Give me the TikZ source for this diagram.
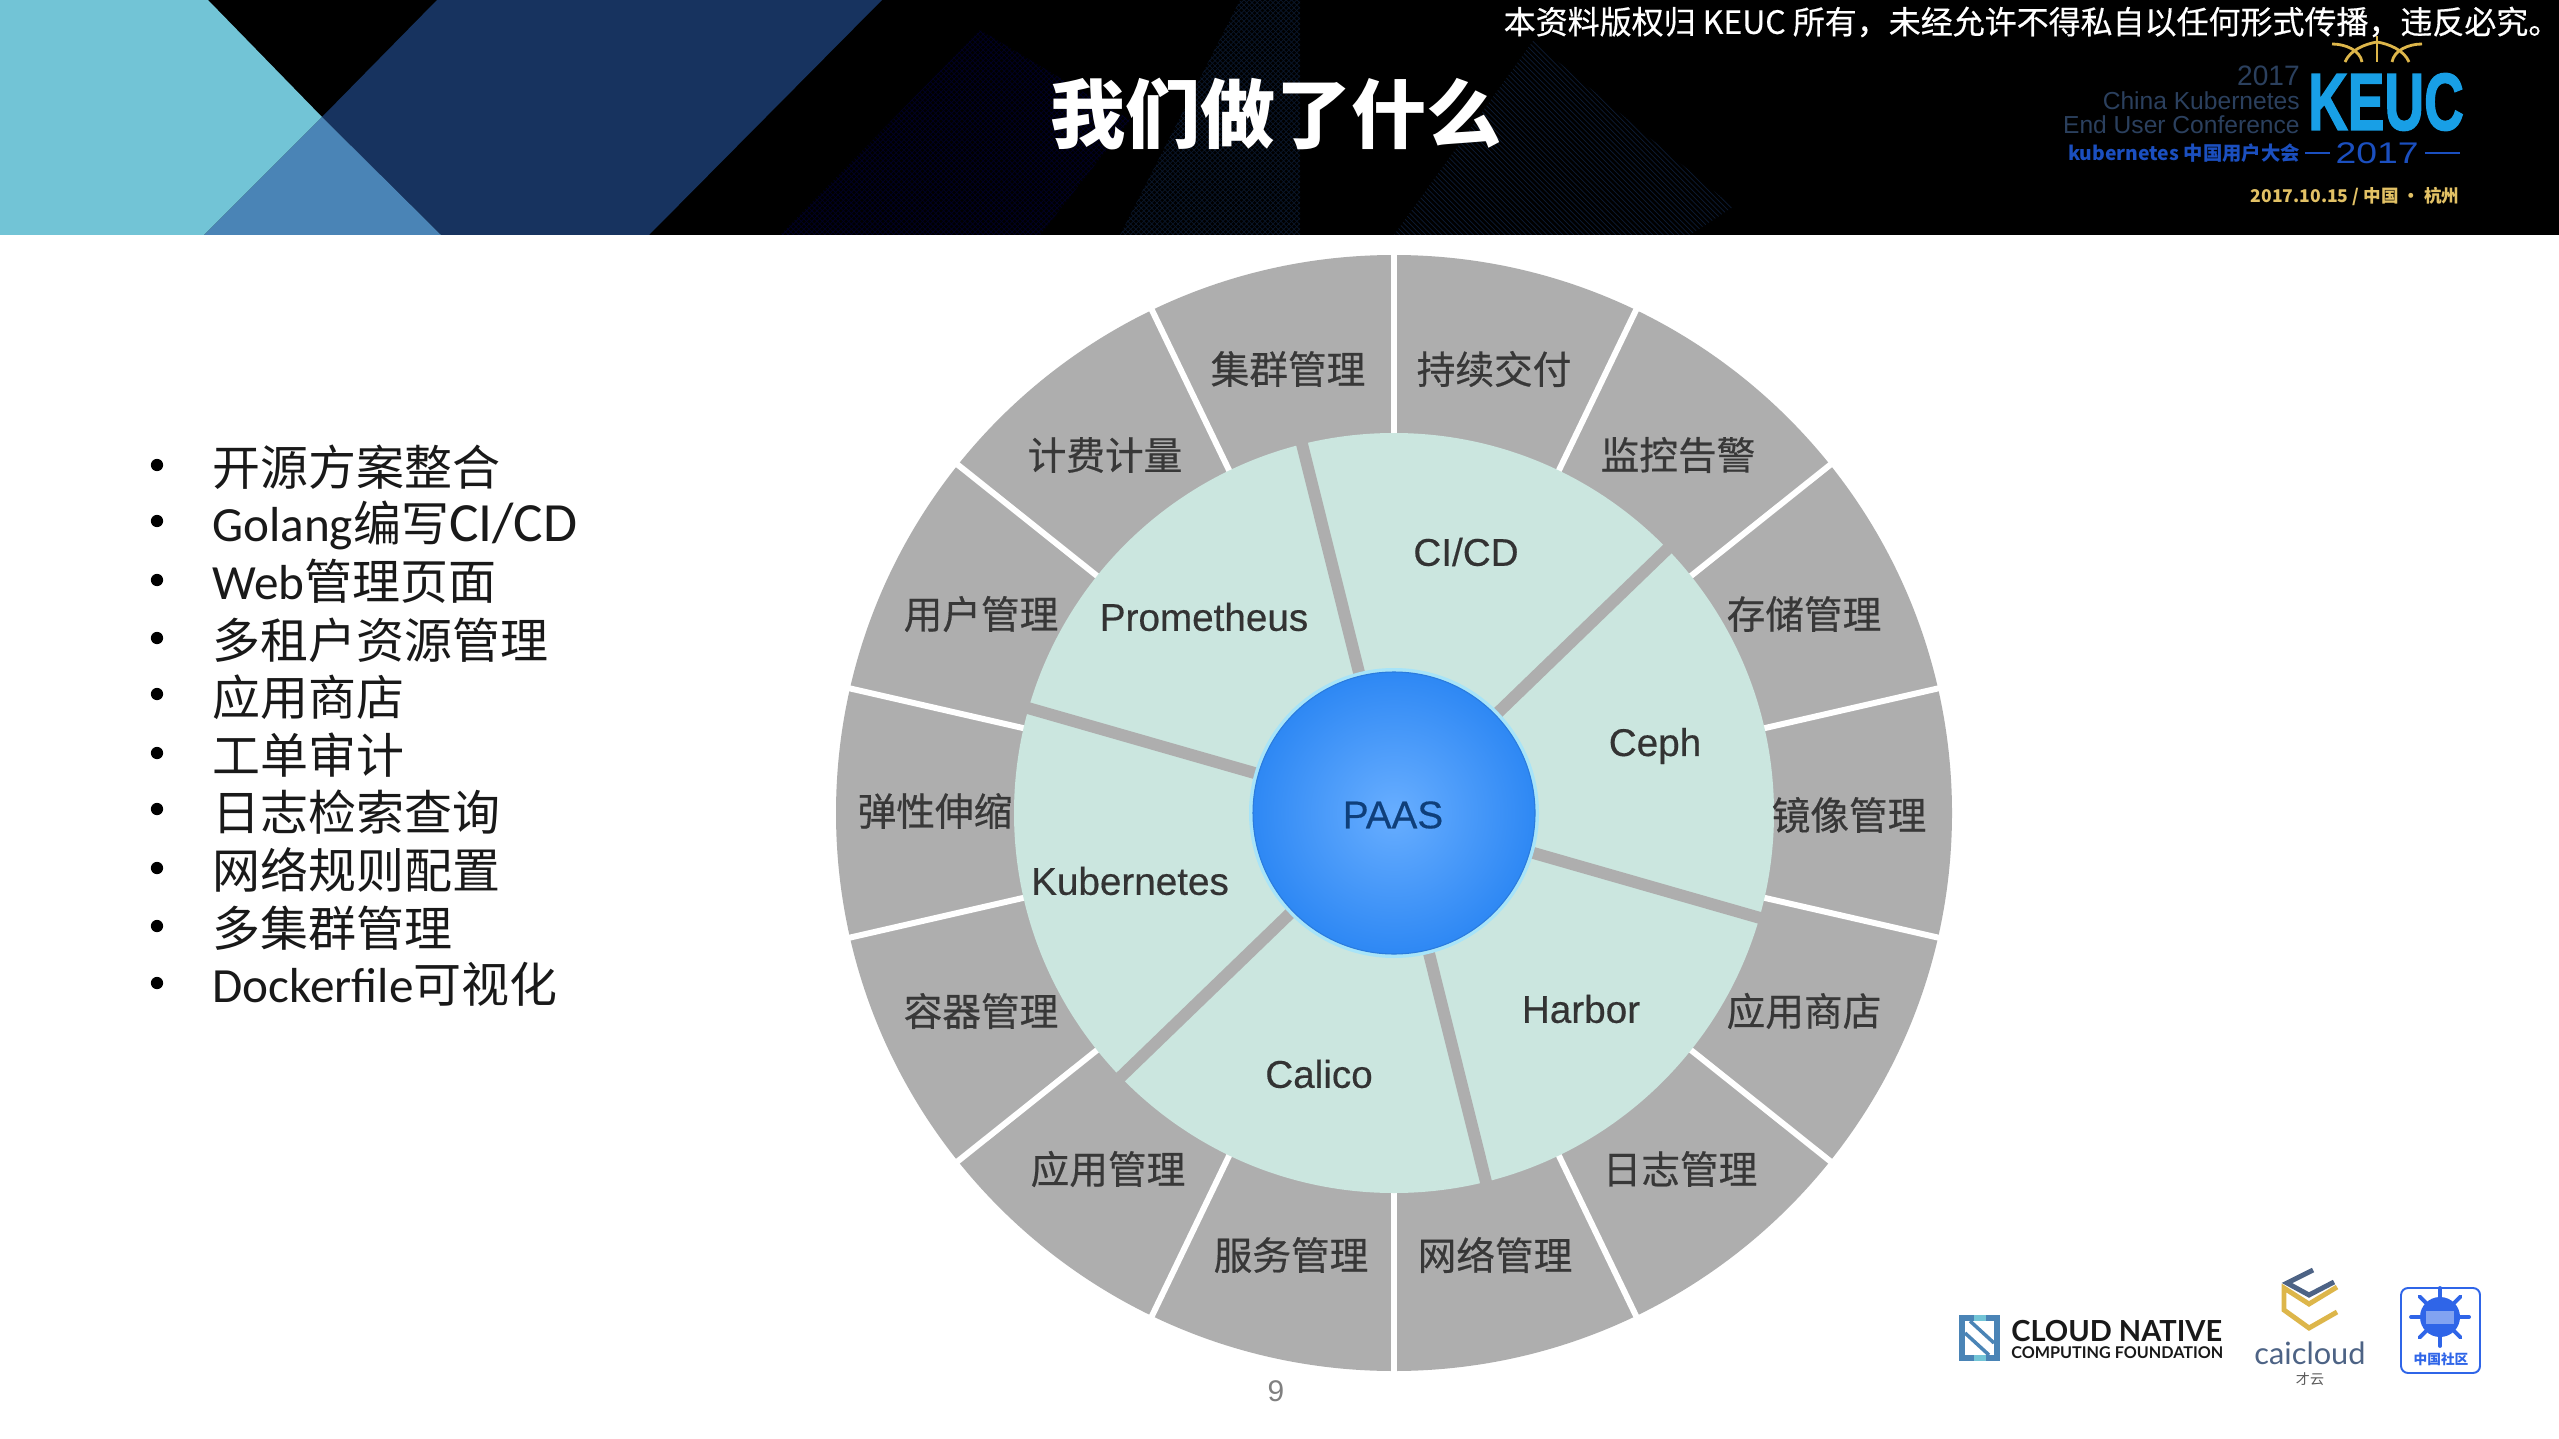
\documentclass[tikz,border=0pt]{standalone}
\usepackage{fontspec}
\usepackage{xcolor}
\setmainfont{Liberation Sans}
\newfontfamily\cjkfont{Noto Sans CJK SC}
\newfontfamily\cjkmed[FakeBold=0.5]{Noto Sans CJK SC}
\newfontfamily\latinmed[FakeBold=0.4]{Liberation Sans}
\newfontfamily\keucfont[FakeBold=2]{Liberation Sans Bold}
\newfontfamily\logofont{Lato}
\newfontfamily\listlatin{Carlito}
\usetikzlibrary{patterns}
\definecolor{ringgrey}{HTML}{AEAEAE}
\definecolor{ringteal}{HTML}{CBE6DF}
\definecolor{headteal}{HTML}{72C4D6}
\definecolor{headmid}{HTML}{4A84B6}
\definecolor{headnavy}{HTML}{17335F}
\definecolor{keucblue}{HTML}{189FE6}
\definecolor{keucdim}{HTML}{2B405E}
\definecolor{keucdeep}{HTML}{1B4FBF}
\definecolor{keucgold}{HTML}{DDB64A}
\definecolor{slateblue}{HTML}{4D6385}
\definecolor{commblue}{HTML}{2F65E8}
\definecolor{ballin}{HTML}{68AEFF}
\definecolor{ballout}{HTML}{2E88F4}
\definecolor{ballrim}{HTML}{A8E4F8}
\definecolor{ballline}{HTML}{2B7BDC}
\definecolor{paasink}{HTML}{0F3F7A}
\newcommand{\lat}[1]{{\listlatin\fontsize{28}{28}\selectfont #1}}
\newcommand{\latwide}[1]{{\listlatin\fontsize{31.5}{31.5}\selectfont #1}}
\tikzset{
  outerlabel/.style={font=\cjkmed\fontsize{22}{22}\selectfont,text=black!78},
  innerlabel/.style={font=\latinmed\fontsize{22}{22}\selectfont,text=black!80},
  listitem/.style={anchor=base west,font=\cjkfont\fontsize{27.3}{27.3}\selectfont,text=black!90},
  listdot/.style={circle,fill=black,minimum size=7pt},
  whitesep/.style={white,line width=3.4pt},
  greysep/.style={ringgrey,line width=6.8pt},
  keucsmall/.style={anchor=east,font=\fontsize{14}{14}\selectfont,text=keucdim}
}
\begin{document}
\begin{tikzpicture}[x=0.02cm,y=0.02cm]
\tikzstyle{every node}+=[inner sep=0pt]
\useasboundingbox (0,0) rectangle (2559,-1439);
\fill [white] (0,0) rectangle (2559,-1439);
\fill [black] (0,0) rectangle (2559,-235);
\fill [headteal] (0,0) -- (208,0) -- (322,-117) -- (204,-235) -- (0,-235) -- cycle;
\fill [headnavy] (437,0) -- (882,0) -- (649,-235) -- (441,-235) -- (322,-117) -- cycle;
\fill [headmid] (322,-117) -- (441,-235) -- (204,-235) -- cycle;
\fill [pattern=crosshatch,pattern color=black!85!blue] (980,-30) -- (1130,-120) -- (1040,-235) -- (780,-235) -- cycle;
\fill [pattern=north west lines,pattern color=headnavy!55!black] (1533,-41) -- (1733,-207) -- (1690,-235) -- (1394,-235) -- cycle;
\fill [pattern=crosshatch,pattern color=headnavy!45!black] (1240,0) -- (1300,0) -- (1300,-235) -- (1120,-235) -- cycle;
\node (title) at (1276,-114) [font=\cjkfont\bfseries\fontsize{42.8}{42.8}\selectfont,text=white] {我们做了什么};
\node (notice) at (2032,-22) [font=\cjkmed\fontsize{18.2}{18.2}\selectfont,text=white] {本资料版权归 KEUC 所有，未经允许不得私自以任何形式传播，违反必究。};
\draw [keucgold,line width=1.6pt] (2377,-36) -- (2377,-62);
\draw [keucgold,line width=1.6pt] (2332,-44) .. controls (2345,-44) and (2360,-50) .. (2362,-62);
\draw [keucgold,line width=1.6pt] (2422,-44) .. controls (2409,-44) and (2394,-50) .. (2392,-62);
\draw [keucgold,line width=1.6pt] (2345,-62) .. controls (2350,-50) and (2365,-44) .. (2377,-42);
\draw [keucgold,line width=1.6pt] (2409,-62) .. controls (2404,-50) and (2389,-44) .. (2377,-42);
\node (keucyear) at (2300,-76) [keucsmall,font=\fontsize{16}{16}\selectfont] {2017};
\node (keucchina) at (2300,-101) [keucsmall] {China Kubernetes};
\node (keucend) at (2300,-125) [keucsmall] {End User Conference};
\node (keuccn) at (2300,-153) [keucsmall,font=\cjkfont\bfseries\fontsize{11}{11}\selectfont,text=keucdeep] {kubernetes 中国用户大会};
\node (keuclogo) at (2386,-102) [font=\keucfont\fontsize{46}{46}\selectfont,text=keucblue] {\scalebox{0.68}[1]{KEUC}};
\node (keucbig) at (2377,-153) [font=\fontsize{17}{17}\selectfont,text=keucdeep] {\scalebox{1.25}[1]{2017}};
\draw [keucdeep,line width=1pt] (2305,-153) -- (2330,-153);
\draw [keucdeep,line width=1pt] (2425,-153) -- (2460,-153);
\node (keucdate) at (2355,-196) [font=\cjkfont\bfseries\fontsize{10}{10}\selectfont,text=keucgold!85!white] {2017.10.15 / 中国 · 杭州};
\node (dot0) at (157,-465) [listdot] {};
\node (dot1) at (157,-521) [listdot] {};
\node (dot2) at (157,-580) [listdot] {};
\node (dot3) at (157,-638) [listdot] {};
\node (dot4) at (157,-694) [listdot] {};
\node (dot5) at (157,-753) [listdot] {};
\node (dot6) at (157,-809) [listdot] {};
\node (dot7) at (157,-868) [listdot] {};
\node (dot8) at (157,-926) [listdot] {};
\node (dot9) at (157,-983) [listdot] {};
\node (item0) at (212,-485) [listitem] {开源方案整合};
\node (item1) at (212,-541) [listitem] {\lat{Golang}编写\latwide{CI/CD}};
\node (item2) at (212,-599) [listitem] {\lat{Web}管理页面};
\node (item3) at (212,-658) [listitem] {多租户资源管理};
\node (item4) at (212,-715) [listitem] {应用商店};
\node (item5) at (212,-773) [listitem] {工单审计};
\node (item6) at (212,-830) [listitem] {日志检索查询};
\node (item7) at (212,-888) [listitem] {网络规则配置};
\node (item8) at (212,-946) [listitem] {多集群管理};
\node (item9) at (212,-1002) [listitem] {\lat{Dockerfile}可视化};
\begin{scope}[shift={(1394,-813)}]
\fill [ringgrey] (0,0) circle (558);
\draw [whitesep] (90:375) -- (90:565);
\draw [whitesep] (64.3:375) -- (64.3:565);
\draw [whitesep] (38.6:375) -- (38.6:565);
\draw [whitesep] (12.9:375) -- (12.9:565);
\draw [whitesep] (-12.9:375) -- (-12.9:565);
\draw [whitesep] (-38.6:375) -- (-38.6:565);
\draw [whitesep] (-64.3:375) -- (-64.3:565);
\draw [whitesep] (-90:375) -- (-90:565);
\draw [whitesep] (-115.7:375) -- (-115.7:565);
\draw [whitesep] (-141.4:375) -- (-141.4:565);
\draw [whitesep] (-167.1:375) -- (-167.1:565);
\draw [whitesep] (167.1:375) -- (167.1:565);
\draw [whitesep] (141.4:375) -- (141.4:565);
\draw [whitesep] (115.7:375) -- (115.7:565);
\fill [ringteal] (0,0) circle (380);
\draw [greysep] (104:130) -- (104:382);
\draw [greysep] (44:130) -- (44:382);
\draw [greysep] (-16:130) -- (-16:382);
\draw [greysep] (-76:130) -- (-76:382);
\draw [greysep] (-136:130) -- (-136:382);
\draw [greysep] (164:130) -- (164:382);
\fill [ballrim] (0,0) circle (145);
\shade [inner color=ballin,outer color=ballout] (0,0) circle (141);
\draw [ballline,line width=0.6pt] (0,0) circle (141);
\end{scope}
\node (paas) at (1393,-815) [innerlabel,text=paasink] {PAAS};
\node (prometheus) at (1204,-617) [innerlabel] {Prometheus};
\node (cicd) at (1466,-552) [innerlabel] {CI/CD};
\node (ceph) at (1655,-746) [innerlabel] {Ceph};
\node (harbor) at (1581,-1009) [innerlabel] {Harbor};
\node (calico) at (1319,-1074) [innerlabel] {Calico};
\node (kubernetes) at (1130,-881) [innerlabel] {Kubernetes};
\node (cluster) at (1288,-369) [outerlabel] {集群管理};
\node (delivery) at (1494,-369) [outerlabel] {持续交付};
\node (alerting) at (1678,-455) [outerlabel] {监控告警};
\node (storage) at (1804,-614) [outerlabel] {存储管理};
\node (image) at (1849,-815) [outerlabel] {镜像管理};
\node (appstore) at (1804,-1011) [outerlabel] {应用商店};
\node (logging) at (1680,-1169) [outerlabel] {日志管理};
\node (network) at (1495,-1255) [outerlabel] {网络管理};
\node (service) at (1291,-1255) [outerlabel] {服务管理};
\node (appmgmt) at (1108,-1169) [outerlabel] {应用管理};
\node (container) at (981,-1011) [outerlabel] {容器管理};
\node (scaling) at (935,-811) [outerlabel] {弹性伸缩};
\node (users) at (981,-614) [outerlabel] {用户管理};
\node (billing) at (1105,-455) [outerlabel] {计费计量};
\node (pagenum) at (1276,-1391) [font=\fontsize{17}{17}\selectfont,text=black!50] {9};
\fill [headmid] (1959,-1315) rectangle (2000,-1361);
\fill [headteal] (1974,-1315) rectangle (1986,-1361);
\fill [white] (1965,-1321) -- (1994,-1321) -- (1994,-1355) -- (1965,-1355) -- cycle;
\draw [headmid,line width=2pt] (1970,-1321) -- (1994,-1343);
\draw [headmid,line width=2pt] (1965,-1333) -- (1989,-1355);
\node (cloudnative) at (2011,-1331) [anchor=west,font=\logofont\bfseries\fontsize{16.5}{16.5}\selectfont,text=black!90] {CLOUD NATIVE};
\node (cncf) at (2011,-1353) [anchor=west,font=\logofont\bfseries\fontsize{9.2}{9.2}\selectfont,text=black!90] {COMPUTING FOUNDATION};
\draw [slateblue,line width=2.8pt] (2313,-1270) -- (2287,-1283) -- (2309,-1295) -- (2334,-1282);
\draw [keucgold,line width=2.8pt] (2337,-1287) -- (2309,-1304) -- (2284,-1288) -- (2284,-1310) -- (2309,-1328) -- (2337,-1312);
\node (caicloud) at (2310,-1353) [font=\logofont\fontsize{17.5}{17.5}\selectfont,text=slateblue] {caicloud};
\node (caicn) at (2310,-1379) [font=\cjkfont\fontsize{8}{8}\selectfont,text=black!65] {才云};
\draw [commblue,line width=1.1pt,rounded corners=4pt] (2401,-1288) rectangle (2480,-1373);
\fill [commblue] (2440,-1317) circle (20);
\draw [commblue,line width=2.2pt,line cap=round] (2440,-1317) -- +(90:29);
\draw [commblue,line width=2.2pt,line cap=round] (2440,-1317) -- +(45:29);
\draw [commblue,line width=2.2pt,line cap=round] (2440,-1317) -- +(0:29);
\draw [commblue,line width=2.2pt,line cap=round] (2440,-1317) -- +(-45:29);
\draw [commblue,line width=2.2pt,line cap=round] (2440,-1317) -- +(-90:29);
\draw [commblue,line width=2.2pt,line cap=round] (2440,-1317) -- +(-135:29);
\draw [commblue,line width=2.2pt,line cap=round] (2440,-1317) -- +(180:29);
\draw [commblue,line width=2.2pt,line cap=round] (2440,-1317) -- +(135:29);
\fill [commblue!60!white] (2426,-1311) rectangle (2454,-1324);
\node (community) at (2441,-1359) [font=\cjkfont\bfseries\fontsize{7.8}{7.8}\selectfont,text=commblue] {中国社区};
\end{tikzpicture}
\end{document}
